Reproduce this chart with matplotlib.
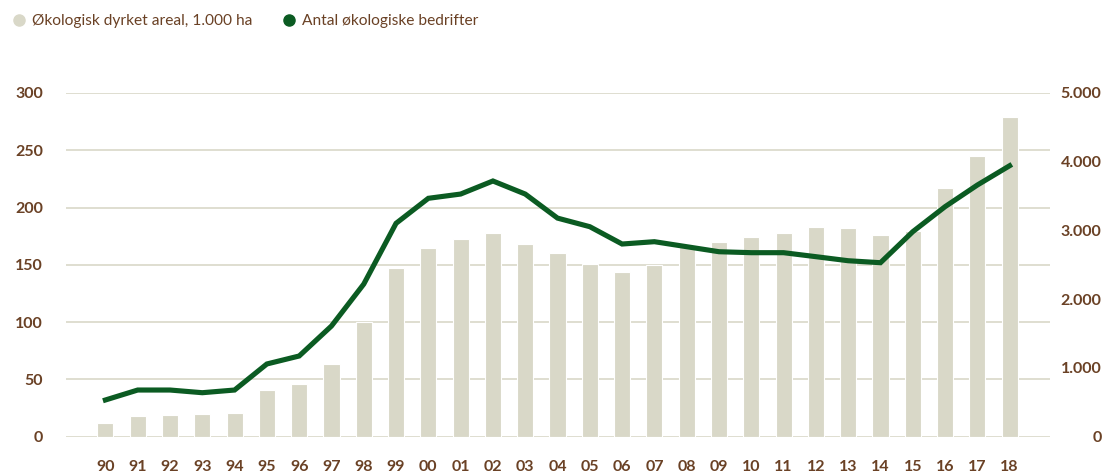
import matplotlib
matplotlib.use("Agg")
import matplotlib.pyplot as plt
from matplotlib.lines import Line2D
from matplotlib.ticker import FuncFormatter

# data
years = ['90', '91', '92', '93', '94', '95', '96', '97', '98', '99',
         '00', '01', '02', '03', '04', '05', '06', '07', '08', '09',
         '10', '11', '12', '13', '14', '15', '16', '17', '18']
areal = [11.7, 18.1, 19.0, 19.8, 20.7, 40.8, 46.1, 63.6, 99.7, 147.5,
         165, 172.7, 178, 168.4, 160.4, 150.7, 144, 150.3, 165.5, 170,
         174.6, 178, 183.3, 182.4, 176.3, 179.8, 217.4, 245.4, 279.4]
bedrifter = [534, 679, 679, 640, 679, 1058, 1174, 1610, 2220, 3104,
             3468, 3530, 3720, 3530, 3180, 3055, 2803, 2837, 2764, 2691,
             2677, 2677, 2619, 2560, 2531, 2982, 3346, 3661, 3942]
left_ticks = [0, 50, 100, 150, 200, 250, 300]
right_ticks = [0, 1000, 2000, 3000, 4000, 5000]

BROWN = '#6a4125'
BAR = '#d9d8c8'
GRID = '#dcdbcd'
GREEN = '#0b5b22'

plt.rcParams['font.family'] = ['Lato', 'DejaVu Sans']

fig = plt.figure(figsize=(11.07, 4.74), dpi=100)
ax = fig.add_axes([66 / 1107, (474 - 436.7) / 474, (1050 - 66) / 1107, (436.7 - 93) / 474])
ax2 = ax.twinx()

x = list(range(len(years)))
ax.bar(x, areal, width=0.5, color=BAR, edgecolor='white', linewidth=0.8, zorder=2)
ax2.plot(x, bedrifter, color=GREEN, lw=3.7, solid_joinstyle='miter', zorder=3)

ax.set_xlim(-1.22, 29.25)
ax.set_ylim(0, 300)
ax2.set_ylim(0, 5000)

ax.set_yticks(left_ticks)
ax2.set_yticks(right_ticks)
ax.set_xticks(x)
ax.set_xticklabels(years)
ax.yaxis.grid(True, color=GRID, lw=1.3, zorder=0)
ax.set_axisbelow(True)

ax2.yaxis.set_major_formatter(FuncFormatter(lambda v, p: f"{int(v):,}".replace(",", ".")))

for a in (ax, ax2):
    for s in a.spines.values():
        s.set_visible(False)

ax.tick_params(axis='both', length=0, labelsize=11.5, labelcolor=BROWN)
ax.tick_params(axis='y', pad=16.5)
ax.tick_params(axis='x', pad=17)
ax2.tick_params(axis='y', length=0, labelsize=11.5, labelcolor=BROWN, pad=37)
for lab in ax.get_xticklabels() + ax.get_yticklabels() + ax2.get_yticklabels():
    lab.set_fontweight('bold')
for lab in ax2.get_yticklabels():
    lab.set_horizontalalignment('right')

handles = [Line2D([], [], ls='none', marker='o', ms=8, color=BAR),
           Line2D([], [], ls='none', marker='o', ms=8, color=GREEN)]
labels = ['Økologisk dyrket areal, 1.000 ha', 'Antal økologiske bedrifter']
fig.legend(handles, labels, loc='center left', bbox_to_anchor=(13 / 1107, 1 - 21 / 474),
           ncol=2, frameon=False, fontsize=11.2, labelcolor=BROWN, handlelength=0.8,
           handletextpad=0.45, columnspacing=1.9, borderpad=0, borderaxespad=0)

fig.savefig('out.png', dpi=100)
